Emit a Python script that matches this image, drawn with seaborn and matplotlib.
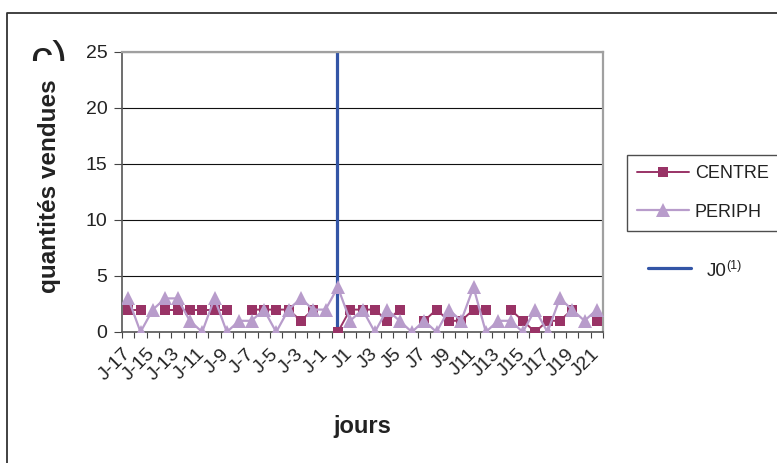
"""
plot.py

Daily quantities sold, CENTRE vs PERIPH, around day J0.
"""

import numpy as np
import pandas as pd
import seaborn as sns
import matplotlib.pyplot as plt
from matplotlib.lines import Line2D
from matplotlib.transforms import Bbox, TransformedBbox, ScaledTranslation

# Data (None = no value that day)
jours = ["J-17", "J-16", "J-15", "J-14", "J-13", "J-12", "J-11", "J-10", "J-9", "J-8",
         "J-7", "J-6", "J-5", "J-4", "J-3", "J-2", "J-1", "J0", "J1", "J2",
         "J3", "J4", "J5", "J6", "J7", "J8", "J9", "J10", "J11", "J12",
         "J13", "J14", "J15", "J16", "J17", "J18", "J19", "J20", "J21"]
centre = [2, 2, None, 2, 2, 2, 2, 2, 2, None,
          2, 2, 2, 2, 1, 2, None, 0, 2, 2,
          2, 1, 2, None, 1, 2, 1, 1, 2, 2,
          None, 2, 1, 0, 1, 1, 2, None, 1]
periph = [3, 0, 2, 3, 3, 1, 0, 3, 0, 1,
          1, 2, 0, 2, 3, 2, 2, 4, 1, 2,
          0, 2, 1, 0, 1, 0, 2, 1, 4, 0,
          1, 1, 0, 2, 0, 3, 2, 1, 2]
tick_labels = jours[::2]
ref_day = "J0"

COL_CENTRE = "#993366"
COL_PERIPH = "#B89CCB"
COL_J0 = "#3355A6"
TXT = "#222222"


def to_frame(values):
    df = pd.DataFrame({"pos": np.arange(len(jours)), "val": pd.array(values, dtype="Float64")})
    df["val"] = df["val"].astype(float)
    # split into runs so that missing days leave a gap in the line
    df["seg"] = df["val"].isna().cumsum()
    return df.dropna()


df_c = to_frame(centre)
df_p = to_frame(periph)

sns.set_style("white")
plt.rcParams["font.family"] = ["Liberation Sans", "DejaVu Sans"]

fig = plt.figure(figsize=(7.77, 4.63), dpi=100)
W, H = 777, 463
ax = fig.add_axes([122 / W, 1 - 332 / H, (603 - 122) / W, 280 / H])

MS_C, MS_P = 7.8, 10
sns.lineplot(data=df_c, x="pos", y="val", units="seg", estimator=None, color=COL_CENTRE,
             marker="s", markersize=MS_C, markeredgewidth=0, lw=1.4, ax=ax, legend=False, zorder=3)
ax.axvline(jours.index(ref_day) - 0.1, color=COL_J0, lw=2.3, zorder=2.5)
sns.lineplot(data=df_p, x="pos", y="val", units="seg", estimator=None, color=COL_PERIPH,
             marker="^", markersize=MS_P, markeredgewidth=0, lw=1.6, ax=ax, legend=False, zorder=4)

ax.set_xlim(-0.5, len(jours) - 0.5)
ax.set_ylim(0, 25)
ax.set_yticks(range(0, 26, 5))
ax.yaxis.grid(True, color="#111111", lw=0.8)
ax.set_axisbelow(True)

# ticks at category boundaries, labels at every other day
ax.set_xticks(np.arange(-0.5, len(jours), 1))
ax.set_xticklabels([])
ax.set_xticks(np.arange(0, len(jours), 2), minor=True)
ax.set_xticklabels(tick_labels, minor=True, rotation=45, ha="right", va="center",
                   rotation_mode="anchor", fontsize=14, color=TXT)
ax.tick_params(axis="x", which="major", length=4.5, width=0.8, color="#444444", direction="out", bottom=True)
ax.tick_params(axis="x", which="minor", length=0, pad=14)
ax.tick_params(axis="y", length=5.5, width=0.8, color="#444444", direction="out", left=True,
               labelsize=14, labelcolor=TXT, pad=5)
off = ScaledTranslation(0, 0, fig.dpi_scale_trans)
for lab in ax.get_xticklabels(minor=True):
    lab.set_transform(lab.get_transform() + off)

for side in ["left", "bottom"]:
    ax.spines[side].set_color("#555555")
    ax.spines[side].set_linewidth(1.2)
for side in ["top", "right"]:
    ax.spines[side].set_color("#A0A0A0")
    ax.spines[side].set_linewidth(1.6)

ax.set_xlabel("jours", fontsize=17, fontweight="bold", color=TXT)
ax.xaxis.set_label_coords(0.5, (332 - 427) / 280)
ax.xaxis.label.set_va("center")
ax.set_ylabel("quantités vendues", fontsize=17.5, fontweight="bold", color=TXT)
ax.yaxis.set_label_coords((49 - 122) / 481, (332 - 186) / 280)
ax.yaxis.label.set_va("center")

# legend box for the two series
handles = [Line2D([], [], color=COL_CENTRE, marker="s", markersize=MS_C, markeredgewidth=0, lw=1.4),
           Line2D([], [], color=COL_PERIPH, marker="^", markersize=MS_P, markeredgewidth=0, lw=1.6)]
leg = fig.legend(handles, ["CENTRE", "PERIPH"], loc="upper left",
                 bbox_to_anchor=(627 / W, 1 - 155 / H, 152 / W, 0), mode="expand",
                 fontsize=13, frameon=True, fancybox=False, edgecolor="#222222",
                 borderpad=0.55, labelspacing=1.2, handlelength=2.9, handletextpad=0.3,
                 borderaxespad=0)
leg.get_frame().set_linewidth(1.0)
for t in leg.get_texts():
    t.set_color(TXT)

# separate J0 key
fig.add_artist(Line2D([648 / W, 691 / W], [1 - 268 / H] * 2, color=COL_J0, lw=2.3,
                      transform=fig.transFigure))
fig.text(707 / W, 1 - 271 / H, "J0", fontsize=13.5, color=TXT, va="center")
fig.text(726 / W, 1 - 266 / H, "(1)", fontsize=9, color=TXT, va="center")

# outer frame of the figure (cut on right and bottom)
fig.add_artist(Line2D([7 / W, 7 / W, 1], [0, 1 - 13 / H, 1 - 13 / H], color="#333333", lw=1.3,
                      transform=fig.transFigure))

# clipped panel letter in the top left corner
c = fig.text(30 / W, 1 - 72 / H, "c)", fontsize=32, color=TXT, va="baseline")
c.set_clip_box(TransformedBbox(Bbox([[0, 1 - 61 / H], [0.2, 1 - 20 / H]]), fig.transFigure))
c.set_clip_on(True)

fig.savefig("out.png", dpi=100)
